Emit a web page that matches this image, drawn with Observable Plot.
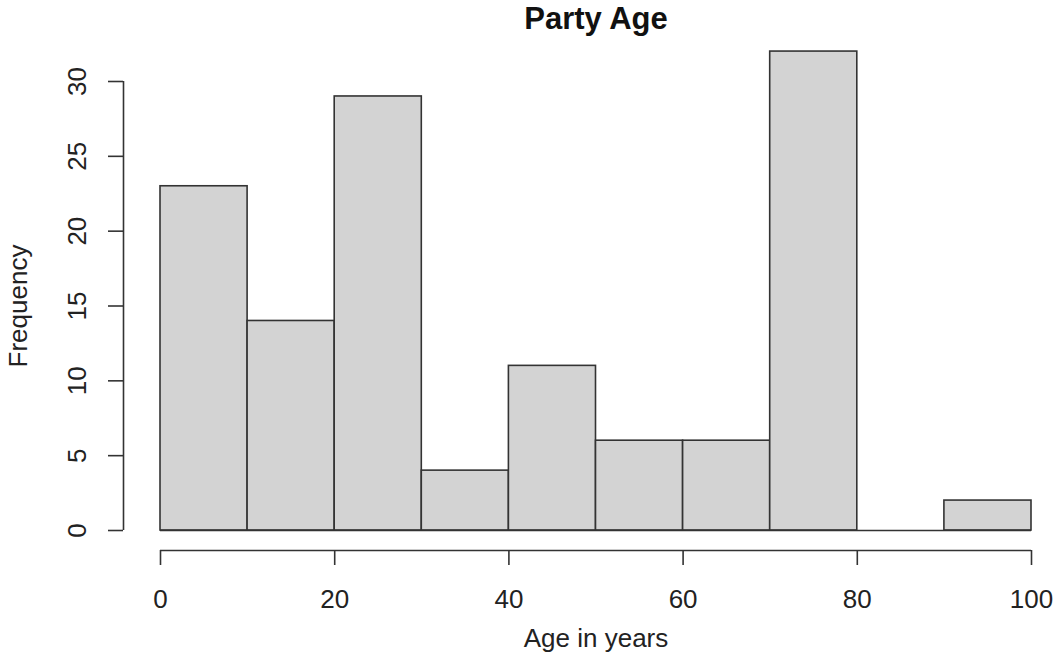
<!DOCTYPE html>
<html>
<head>
<meta charset="utf-8">
<script src="https://cdn.jsdelivr.net/npm/d3@7"></script>
<script src="https://cdn.jsdelivr.net/npm/@observablehq/plot@0.6"></script>
<style>
  html, body { margin: 0; padding: 0; background: #fff; }
  svg { display: block; }
</style>
</head>
<body>
<div id="chart"></div>
<script>
const title = "Party Age";
const xLabel = "Age in years";
const yLabel = "Frequency";
const binStarts = [0, 10, 20, 30, 40, 50, 60, 70, 80, 90];
const binEnds = [10, 20, 30, 40, 50, 60, 70, 80, 90, 100];
const counts = [23, 14, 29, 4, 11, 6, 6, 32, 0, 2];
const xTicks = [0, 20, 40, 60, 80, 100];
const yTicks = [0, 5, 10, 15, 20, 25, 30];

const bins = binStarts.map((s, i) => ({x1: s, x2: binEnds[i], count: counts[i]}));
const font = "'Liberation Sans', Arial, Helvetica, sans-serif";
const stroke = "#333";

const chart = Plot.plot({
  width: 1060,
  height: 663,
  marginLeft: 160,
  marginRight: 29,
  marginTop: 81,
  marginBottom: 133,
  style: {fontFamily: font, background: "#fff"},
  x: {domain: [0, 100], axis: null},
  y: {domain: [0, 30], axis: null},
  marks: [
    Plot.rectY(bins, {x1: "x1", x2: "x2", y: "count", fill: "#d3d3d3", stroke, strokeWidth: 1.6, inset: 0}),
    Plot.ruleY([0], {x1: binStarts[0], x2: binEnds[binEnds.length - 1], stroke, strokeWidth: 1.6}),
    // x axis (offset below, R style)
    Plot.ruleY([0], {x1: xTicks[0], x2: xTicks[xTicks.length - 1], dy: 20, stroke, strokeWidth: 1.6}),
    Plot.axisX({anchor: "bottom", ticks: xTicks, tickSize: 15, dy: 20, tickFormat: () => "", label: null, stroke, strokeWidth: 1.6, strokeOpacity: 1}),
    Plot.text(xTicks, {x: d => d, y: 0, dy: 69, text: d => String(d), fontSize: 26, fill: "#222", lineAnchor: "middle", textAnchor: "middle"}),
    Plot.text([xLabel], {frameAnchor: "bottom", dy: 108, text: d => d, fontSize: 26, fill: "#222", lineAnchor: "middle"}),
    // y axis (offset left, R style)
    Plot.ruleX([0], {y1: yTicks[0], y2: yTicks[yTicks.length - 1], dx: -37, stroke, strokeWidth: 1.6}),
    Plot.axisY({anchor: "left", ticks: yTicks, tickSize: 15, dx: -37, tickFormat: () => "", label: null, stroke, strokeWidth: 1.6, strokeOpacity: 1}),
    Plot.text(yTicks, {x: 0, y: d => d, dx: -83, text: d => String(d), rotate: -90, fontSize: 26, fill: "#222", lineAnchor: "middle", textAnchor: "middle"}),
    Plot.text([yLabel], {frameAnchor: "left", dx: -142, text: d => d, rotate: -90, fontSize: 26, fill: "#222", lineAnchor: "middle", textAnchor: "middle"}),
    // title
    Plot.text([title], {frameAnchor: "top", dy: -62, text: d => d, fontSize: 31, fontWeight: "bold", fill: "#111", lineAnchor: "middle"})
  ]
});

document.getElementById("chart").appendChild(chart);
</script>
</body>
</html>
